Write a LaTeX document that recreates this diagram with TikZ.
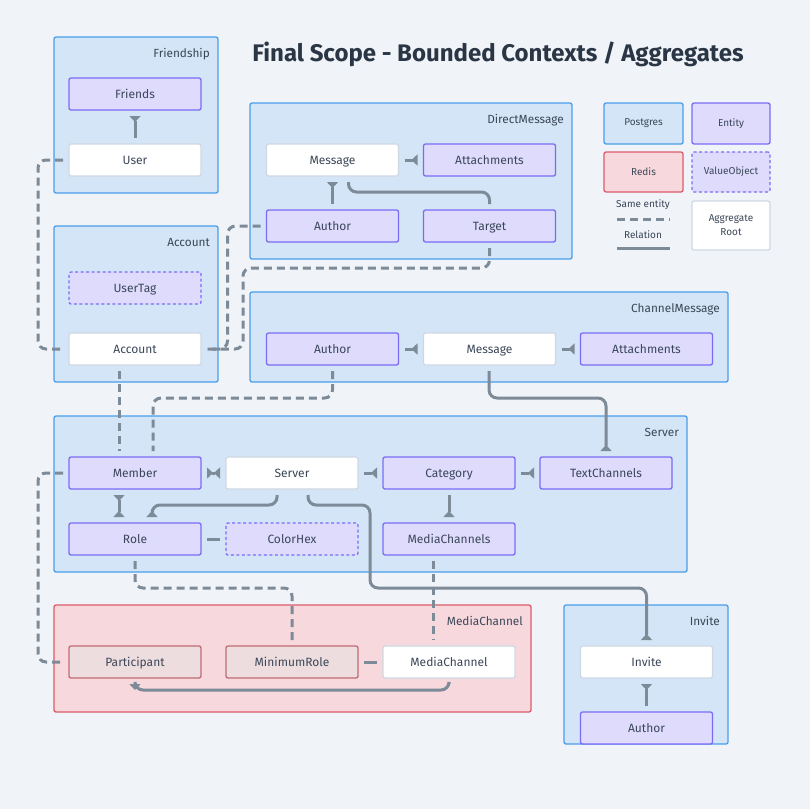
\documentclass[tikz,border=0pt]{standalone}
\usepackage{fontspec}
\setmainfont{Fira Sans}
\usepackage{xcolor}
\usepackage{tikz}
\usetikzlibrary{arrows.meta, positioning}
\definecolor{bgcol}{HTML}{F0F4F8}
\definecolor{ctxfill}{HTML}{D3E5F6}
\definecolor{ctxline}{HTML}{4A9EEA}
\definecolor{entfill}{HTML}{DEDBFD}
\definecolor{entline}{HTML}{7A6CF5}
\definecolor{rootline}{HTML}{CFD8E2}
\definecolor{redisfill}{HTML}{F7D8DD}
\definecolor{redisline}{HTML}{DC5B6B}
\definecolor{redisent}{HTML}{EEDDDF}
\definecolor{redisentline}{HTML}{BF6B72}
\definecolor{relgrey}{HTML}{7D8A97}
\definecolor{ink}{HTML}{3B4758}
\definecolor{titleink}{HTML}{2A3645}

\begin{document}
\begin{tikzpicture}[
    x=1pt, y=-1pt,
    node distance=25pt,
    ctx/.style={rectangle, draw=ctxline, fill=ctxfill, line width=1.3pt, rounded corners=2pt, inner sep=0pt, outer sep=0pt},
    ctxname/.style={anchor=base east, inner sep=0pt, text=ink, font=\fontsize{11.8}{14}\selectfont},
    box/.style={rectangle, draw=entline, fill=entfill, line width=1.3pt, rounded corners=2pt, minimum width=132pt, minimum height=32pt, inner sep=0pt, outer sep=0pt, text=ink, text height=8pt, text depth=0pt, font=\fontsize{12}{14}\selectfont},
    root/.style={box, draw=rootline, fill=white},
    vobj/.style={box, dash pattern=on 3pt off 2.5pt},
    rbox/.style={box, draw=redisentline, fill=redisent},
    legend/.style={text=ink, text height=, text depth=, font=\fontsize{10}{12}\selectfont, align=center},
    rel/.style={draw=relgrey, line width=3pt, rounded corners=8pt, shorten <=6pt, shorten >=6pt},
    same/.style={rel, dash pattern=on 8pt off 5pt},
    many/.tip={Triangle[reversed, width=11pt, length=6pt]}
]

% Background
\fill[bgcol] (0,0) rectangle (810,809);

% Title
\node[text=titleink, font=\fontsize{24}{28}\selectfont\bfseries] (title) at (498,54) {Final Scope - Bounded Contexts / Aggregates};

% Contexts
\node[ctx, minimum width=164pt, minimum height=156pt] (frctx) at (136,115) {};
\node[ctx, minimum width=322pt, minimum height=156pt] (dmctx) at (411,181) {};
\node[ctx, minimum width=164pt, minimum height=156pt] (accctx) at (136,304) {};
\node[ctx, minimum width=478pt, minimum height=90pt] (cmctx) at (489,337) {};
\node[ctx, minimum width=633pt, minimum height=156pt] (srvctx) at (370.5,494) {};
\node[ctx, draw=redisline, fill=redisfill, minimum width=477pt, minimum height=107pt] (mcctx) at (292.5,658.5) {};
\node[ctx, minimum width=164pt, minimum height=139pt] (invctx) at (646,674.5) {};

\node[ctxname] at ([shift={(-8,20)}]frctx.north east) {Friendship};
\node[ctxname] at ([shift={(-8,20)}]dmctx.north east) {DirectMessage};
\node[ctxname] at ([shift={(-8,20)}]accctx.north east) {Account};
\node[ctxname] at ([shift={(-8,20)}]cmctx.north east) {ChannelMessage};
\node[ctxname] at ([shift={(-8,20)}]srvctx.north east) {Server};
\node[ctxname] at ([shift={(-8,20)}]mcctx.north east) {MediaChannel};
\node[ctxname] at ([shift={(-8,20)}]invctx.north east) {Invite};

% Friendship
\node[box] (friends) at (135,94) {Friends};
\node[root, below=34pt of friends] (user) {User};

% DirectMessage
\node[root] (dmmsg) at (332.5,160) {Message};
\node[box, right=of dmmsg] (dmattach) {Attachments};
\node[box, below=34pt of dmmsg] (dmauthor) {Author};
\node[box, below=34pt of dmattach] (dmtarget) {Target};

% Account
\node[vobj] (usertag) at (135,288) {UserTag};
\node[root] (account) at (135,349) {Account};

% ChannelMessage
\node[box] (cmauthor) at (332.5,349) {Author};
\node[root, right=of cmauthor] (cmmsg) {Message};
\node[box, right=of cmmsg] (cmattach) {Attachments};

% Server
\node[box] (member) at (135,473) {Member};
\node[root, right=of member] (server) {Server};
\node[box, right=of server] (category) {Category};
\node[box, right=of category] (textch) {TextChannels};
\node[box, below=34pt of member] (role) {Role};
\node[vobj, right=of role] (colorhex) {ColorHex};
\node[box, right=of colorhex] (mediachs) {MediaChannels};

% MediaChannel
\node[rbox] (particip) at (135,662) {Participant};
\node[rbox, right=of particip] (minrole) {MinimumRole};
\node[root, right=of minrole] (mcnode) {MediaChannel};

% Invite
\node[root] (invite) at (646.5,662) {Invite};
\node[box, below=34pt of invite] (invauthor) {Author};

% Legend
\node[ctx, minimum width=79pt, minimum height=41pt, legend] (lgpg) at (643.5,123.5) {Postgres};
\node[box, minimum width=78pt, minimum height=41pt, legend] (lgent) at (731,123.5) {Entity};
\node[ctx, draw=redisline, fill=redisfill, minimum width=79pt, minimum height=40pt, legend] (lgredis) at (643.5,172) {Redis};
\node[vobj, minimum width=78pt, minimum height=40pt, legend] (lgvo) at (731,172) {ValueObject};
\node[root, minimum width=78pt, minimum height=49pt, legend] (lgroot) at (731,225.5) {Aggregate\\[2pt]Root};
\node[legend] (lgsame) at (643,205) {Same entity};
\node[legend] (lgrel) at (643,235) {Relation};
\coordinate (samel) at (617,219);
\coordinate (samer) at (670,219);
\coordinate (rell) at (617,248);
\coordinate (relr) at (670,248);
\draw[same, shorten <=0pt, shorten >=0pt] (samel) -- (samer);
\draw[rel, shorten <=0pt, shorten >=0pt] (rell) -- (relr);

% Relations
\draw[rel, -many] (user) -- (friends);
\draw[rel, -many] (dmmsg) -- (dmattach);
\draw[rel, -many] (dmauthor) -- (dmmsg);
\draw[rel] ([xshift=16]dmmsg.south) -- ++(0,16) -| (dmtarget.north);
\draw[rel, -many] (cmauthor) -- (cmmsg);
\draw[rel, -many] (cmmsg) -- (cmattach);
\draw[rel, -many] ([xshift=-0.5]cmmsg.south) -- ++(0,33) -| (textch.north);
\draw[rel, many-many] (member) -- (server);
\draw[rel, -many] (server) -- (category);
\draw[rel, -many] (category) -- (textch);
\draw[rel, -many] (category) -- (mediachs);
\draw[rel, many-many] ([xshift=-16]member.south) -- ([xshift=-16]role.north);
\draw[rel] (role) -- (colorhex);
\draw[rel, -many] ([xshift=-15]server.south) -- ++(0,16) -| ([xshift=17]role.north);
\draw[rel, -many] ([xshift=16]server.south) -- ++(0,16) -- ++(62,0) -- ++(0,83) -| (invite.north);
\draw[rel, -many] (mcnode.south) -- ++(0,12) -| (particip.south);
\draw[rel] (minrole) -- (mcnode);
\draw[rel, -many] (invauthor) -- (invite);

% Same entity
\draw[same] (user.west) -- ++(-31,0) |- (account.west);
\draw[same] (dmauthor.west) -- ++(-39,0) |- (account.east);
\draw[same] (dmtarget.south) -- ++(0,26) -- ++(-246.5,0) |- (account.east);
\draw[same] ([xshift=-16]account.south) -- ([xshift=-16]member.north);
\draw[same] (cmauthor.south) -- ++(0,33) -| ([xshift=18]member.north);
\draw[same] (member.west) -- ++(-31,0) |- (particip.west);
\draw[same] (role.south) -- ++(0,33) -| (minrole.north);
\draw[same] ([xshift=-16]mediachs.south) -- ([xshift=-16]mcnode.north);

\end{tikzpicture}
\end{document}
